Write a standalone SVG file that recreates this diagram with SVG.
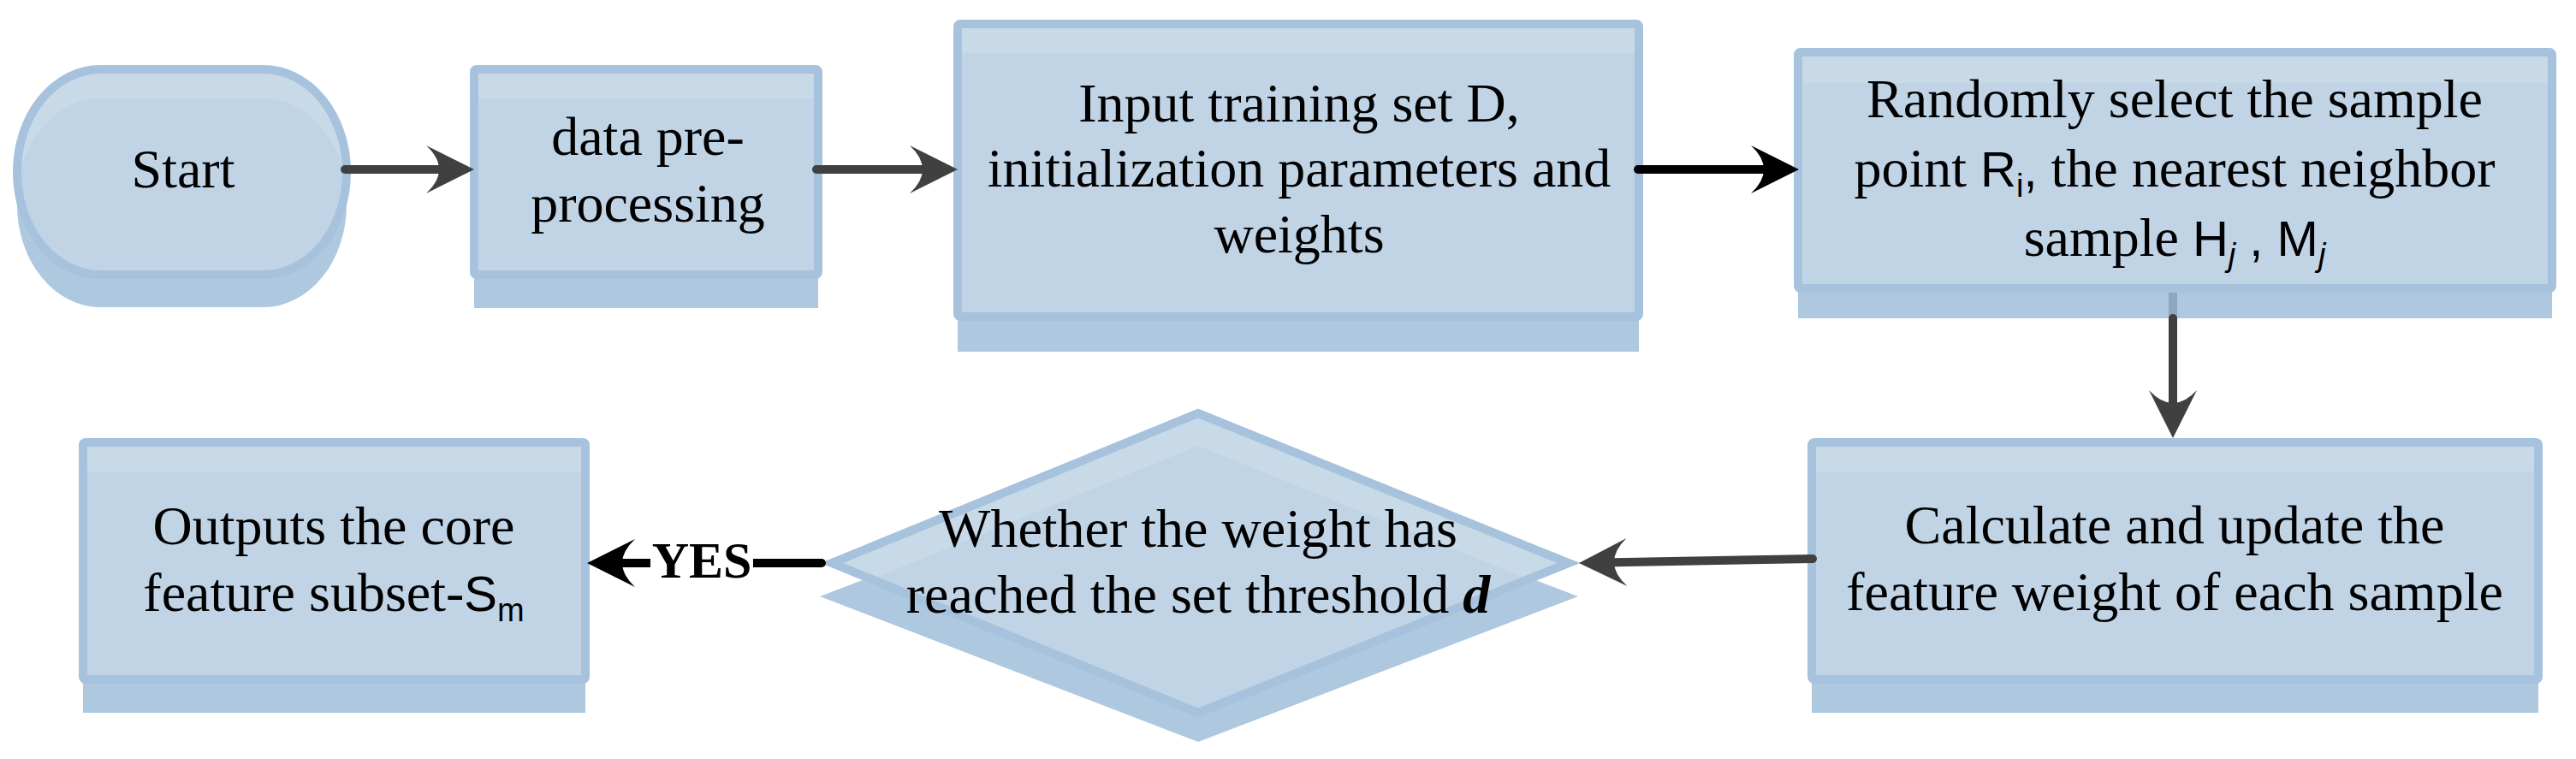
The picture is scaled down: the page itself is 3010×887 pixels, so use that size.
<svg xmlns="http://www.w3.org/2000/svg" width="3010" height="887" viewBox="0 0 3010 887">
<style>
.shadow{fill:#AEC8DF;stroke:none}
.fillL{fill:#C8D9E8;stroke:none}
.fillD{fill:#C1D4E6;stroke:none}
.border{fill:none;stroke:#A6C2DC;stroke-width:10}
.box{fill:#C1D4E6;stroke:#A6C2DC;stroke-width:10}
.band{fill:#C8D9E8;stroke:none}
.t{font-family:"Liberation Serif","Times New Roman",serif;font-size:64px;fill:#000;text-anchor:middle}
.s{font-family:"Liberation Sans",Arial,sans-serif;font-size:58px}
.sub{font-family:"Liberation Sans",Arial,sans-serif;font-size:38px}
.edge{fill:none;stroke-width:10;stroke-linecap:round}
.gray{stroke:#404040}
.black{stroke:#000}
</style>
<defs>
<marker id="ahGray" markerUnits="userSpaceOnUse" markerWidth="56" markerHeight="56" viewBox="0 0 56 56" refX="16" refY="28" orient="auto">
<path d="M56,28 L0,0 Q30,28 0,56 Z" fill="#404040"/>
</marker>
<marker id="ahBlack" markerUnits="userSpaceOnUse" markerWidth="56" markerHeight="56" viewBox="0 0 56 56" refX="16" refY="28" orient="auto">
<path d="M56,28 L0,0 Q30,28 0,56 Z" fill="#000"/>
</marker>
<path id="startShape" d="M117,81 H308 A97,120 0 0 1 308,321 H117 A97,120 0 0 1 117,81 Z"/>
<polygon id="diaShape" points="1400,483 1833,658 1400,833 972,658"/>
<clipPath id="clipStart"><use href="#startShape"/></clipPath>
<clipPath id="clipDia"><use href="#diaShape"/></clipPath>
</defs>

<g id="node-start">
<use href="#startShape" class="shadow" transform="translate(0,38)"/>
<use href="#startShape" class="fillL"/>
<g clip-path="url(#clipStart)"><use href="#startShape" class="fillD" transform="translate(0,34)"/></g>
<use href="#startShape" class="border"/>
<text class="t" x="214" y="219">Start</text>
</g>

<g id="node-preprocess">
<rect class="shadow" x="554" y="120" width="402" height="240"/>
<rect class="box" x="554" y="81" width="402" height="240" rx="3"/>
<rect class="band" x="559" y="86" width="392" height="29"/>
<text class="t" x="757" y="181">data pre-</text>
<text class="t" x="757" y="259">processing</text>
</g>

<g id="node-input">
<rect class="shadow" x="1119" y="69" width="796" height="342"/>
<rect class="box" x="1119" y="28" width="796" height="342" rx="3"/>
<rect class="band" x="1124" y="33" width="786" height="29"/>
<text class="t" x="1518" y="142">Input training set D,</text>
<text class="t" x="1518" y="218">initialization parameters and</text>
<text class="t" x="1518" y="295">weights</text>
</g>

<g id="node-random">
<rect class="shadow" x="2101" y="96" width="881" height="276"/>
<rect class="box" x="2101" y="61" width="881" height="276" rx="3"/>
<rect class="band" x="2106" y="66" width="871" height="31"/>
<text class="t" x="2541" y="137">Randomly select the sample</text>
<text class="t" x="2541" y="218">point <tspan class="s">R</tspan><tspan class="sub" dy="12">i</tspan><tspan class="s" dy="-12">,</tspan> the nearest neighbor</text>
<text class="t" x="2541" y="299">sample <tspan class="s">H</tspan><tspan class="sub" font-style="italic" dy="12">j</tspan><tspan class="s" dy="-12"> , M</tspan><tspan class="sub" font-style="italic" dy="12">j</tspan></text>
</g>

<g id="node-calc">
<rect class="shadow" x="2117" y="556" width="849" height="277"/>
<rect class="box" x="2117" y="517" width="849" height="277" rx="3"/>
<rect class="band" x="2122" y="522" width="839" height="29"/>
<text class="t" x="2541" y="635">Calculate and update the</text>
<text class="t" x="2541" y="713">feature weight of each sample</text>
</g>

<g id="node-decision">
<polygon class="shadow" points="1400,527 1844,697 1400,867 958,697"/>
<use href="#diaShape" class="fillL"/>
<g clip-path="url(#clipDia)"><use href="#diaShape" class="fillD" transform="translate(0,38)"/></g>
<use href="#diaShape" class="border" stroke-linejoin="miter" stroke-miterlimit="10"/>
<text class="t" x="1400" y="639">Whether the weight has</text>
<text class="t" x="1400" y="716">reached the set threshold <tspan font-weight="bold" font-style="italic">d</tspan></text>
</g>

<g id="node-output">
<rect class="shadow" x="97" y="556" width="587" height="277"/>
<rect class="box" x="97" y="517" width="587" height="277" rx="3"/>
<rect class="band" x="102" y="522" width="577" height="29"/>
<text class="t" x="390" y="636">Outputs the core</text>
<text class="t" x="390" y="714">feature subset-<tspan class="s">S</tspan><tspan class="sub" dy="12">m</tspan></text>
</g>

<g id="connectors">
<path class="edge gray" d="M403,198 H514" marker-end="url(#ahGray)"/>
<path class="edge gray" d="M954,198 H1079" marker-end="url(#ahGray)"/>
<path class="edge black" d="M1914,198 H2062" marker-end="url(#ahBlack)"/>
<g id="edge-random-calc">
<path d="M2539,342 V372" fill="none" stroke="#8EA6BE" stroke-width="10"/>
<path class="edge gray" d="M2539,372 V472" stroke-linecap="butt" marker-end="url(#ahGray)"/>
</g>
<path class="edge gray" d="M2118,653 L1885,657.3" marker-end="url(#ahGray)"/>
<g id="edge-decision-output">
<path class="edge black" d="M960,658 H726" marker-end="url(#ahBlack)"/>
<rect x="760" y="630" width="120" height="56" fill="#fff"/>
<text x="820" y="675" font-family="'Liberation Serif','Times New Roman',serif" font-size="60" font-weight="bold" text-anchor="middle" fill="#000">YES</text>
</g>
</g>
</svg>
